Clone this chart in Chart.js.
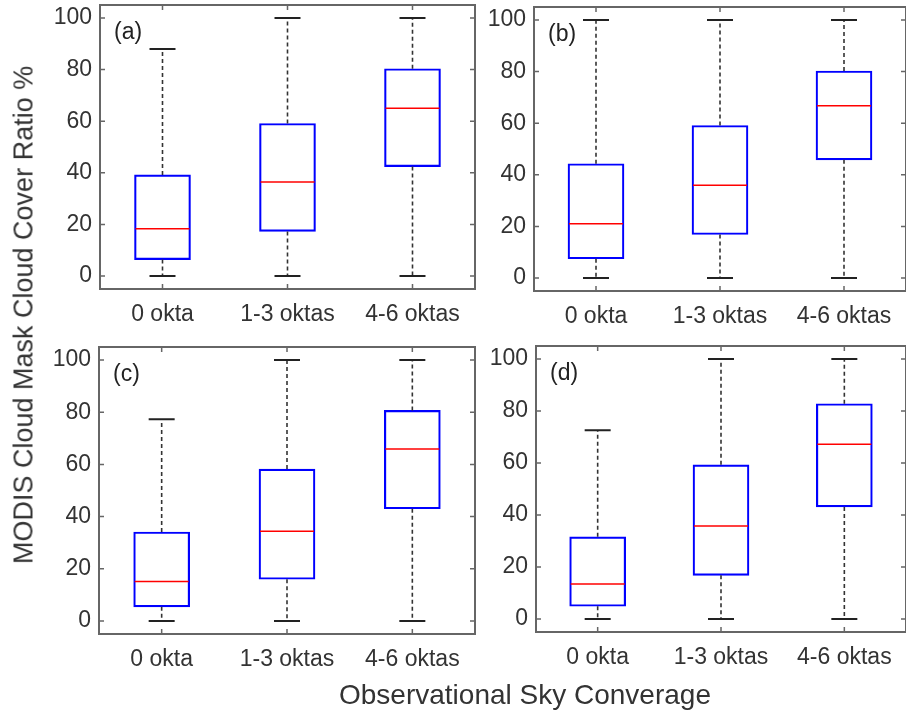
<!DOCTYPE html>
<html>
<head>
<meta charset="utf-8">
<script src="https://cdn.jsdelivr.net/npm/chart.js@4.4.1/dist/chart.umd.min.js"></script>
<style>
  body { margin: 0; background: #fff; }
  #wrap { position: relative; width: 906px; height: 719px; overflow: hidden; background: #fff; font-family: "Liberation Sans", Arial, sans-serif; }
  canvas { position: absolute; }
  .ytitle { position: absolute; left: 24px; top: 315px; transform: translate(-50%, -50%) rotate(-90deg); white-space: nowrap; font-size: 27px; color: #333; }
  .xtitle { position: absolute; left: 525px; top: 695px; transform: translate(-50%, -50%); white-space: nowrap; font-size: 28px; color: #333; }
</style>
</head>
<body>
<div id="wrap">
  <canvas id="pa" width="440" height="335" style="left:40px;top:0px"></canvas>
  <canvas id="pb" width="432" height="335" style="left:474px;top:0px"></canvas>
  <canvas id="pc" width="441" height="340" style="left:39px;top:340px"></canvas>
  <canvas id="pd" width="430" height="340" style="left:476px;top:340px"></canvas>
  <div class="ytitle">MODIS Cloud Mask Cloud Cover Ratio %</div>
  <div class="xtitle">Observational Sky Converage</div>
</div>
<script>
const categories = ['0 okta', '1-3 oktas', '4-6 oktas'];
const yTicks = [0, 20, 40, 60, 80, 100];

// (a)
const lowA = [0, 0, 0];
const q1A = [6.4, 17.3, 42.4];
const medA = [18.3, 36.4, 65];
const q3A = [39.2, 59.1, 80.3];
const highA = [88, 100, 100];

// (b)
const lowB = [0, 0, 0];
const q1B = [7.5, 16.9, 45.8];
const medB = [21, 36, 66.8];
const q3B = [44.3, 59.1, 80.2];
const highB = [100, 100, 100];

// (c)
const lowC = [0, 0, 0];
const q1C = [5.4, 16, 43];
const medC = [15.1, 34.4, 65.9];
const q3C = [34.1, 58.2, 80.7];
const highC = [77.3, 100, 100];

// (d)
const lowD = [0, 0, 0];
const q1D = [4.9, 16.8, 43.1];
const medD = [13.5, 35.8, 67.2];
const q3D = [31.6, 59.3, 82.8];
const highD = [72.6, 100, 100];

const tickFont = { family: '"Liberation Sans", Arial, sans-serif', size: 23 };
const textColor = '#333';
const axisColor = '#666';

// whiskers, caps, medians, frame and inner ticks (MATLAB boxplot look)
const boxPlugin = {
    id: 'boxExtras',
    afterDatasetsDraw(chart, args, opts) {
        const ctx = chart.ctx;
        const xs = chart.scales.x;
        const ys = chart.scales.y;
        const st = opts.stats;
        ctx.save();
        for (let i = 0; i < categories.length; i++) {
            const x = xs.getPixelForValue(i);
            const yLow = ys.getPixelForValue(st.low[i]);
            const yQ1 = ys.getPixelForValue(st.q1[i]);
            const yMed = ys.getPixelForValue(st.med[i]);
            const yQ3 = ys.getPixelForValue(st.q3[i]);
            const yHigh = ys.getPixelForValue(st.high[i]);

            ctx.strokeStyle = '#333';
            ctx.lineWidth = 1.6;
            ctx.setLineDash([4, 3]);
            ctx.beginPath();
            ctx.moveTo(x, yQ3);
            ctx.lineTo(x, yHigh);
            ctx.moveTo(x, yQ1);
            ctx.lineTo(x, yLow);
            ctx.stroke();

            ctx.setLineDash([]);
            ctx.strokeStyle = '#222';
            ctx.lineWidth = 2;
            ctx.beginPath();
            ctx.moveTo(x - 13, yHigh);
            ctx.lineTo(x + 13, yHigh);
            ctx.moveTo(x - 13, yLow);
            ctx.lineTo(x + 13, yLow);
            ctx.stroke();

            ctx.strokeStyle = '#ff0000';
            ctx.lineWidth = 1.5;
            ctx.beginPath();
            ctx.moveTo(x - 27, yMed);
            ctx.lineTo(x + 27, yMed);
            ctx.stroke();
        }
        ctx.restore();
    },
    afterDraw(chart, args, opts) {
        const ctx = chart.ctx;
        const a = chart.chartArea;
        const xs = chart.scales.x;
        const ys = chart.scales.y;
        ctx.save();
        ctx.strokeStyle = axisColor;
        ctx.lineWidth = 1.5;
        ctx.beginPath();
        yTicks.forEach(v => {
            const y = ys.getPixelForValue(v);
            ctx.moveTo(a.left, y); ctx.lineTo(a.left + 5, y);
            ctx.moveTo(a.right, y); ctx.lineTo(a.right - 5, y);
        });
        categories.forEach((c, i) => {
            const x = xs.getPixelForValue(i);
            ctx.moveTo(x, a.bottom); ctx.lineTo(x, a.bottom - 5);
            ctx.moveTo(x, a.top); ctx.lineTo(x, a.top + 5);
        });
        ctx.stroke();
        ctx.lineWidth = 2;
        ctx.strokeRect(a.left, a.top, a.right - a.left, a.bottom - a.top);

        ctx.fillStyle = '#222';
        ctx.font = '23px "Liberation Sans", Arial, sans-serif';
        ctx.textBaseline = 'middle';
        ctx.fillText(opts.label, a.left + 14, a.top + 28);
        ctx.restore();
    }
};

function makePanel(id, label, low, q1, med, q3, high, pad, xh) {
    return new Chart(id, {
        type: 'bar',
        data: {
            labels: categories,
            datasets: [{
                data: q1.map((v, i) => [v, q3[i]]),
                backgroundColor: 'rgba(0,0,0,0)',
                borderColor: '#0000ff',
                borderWidth: 1.5,
                borderSkipped: false,
                barThickness: 56
            }]
        },
        options: {
            responsive: false,
            animation: false,
            layout: { padding: pad },
            plugins: {
                legend: { display: false },
                tooltip: { enabled: false },
                boxExtras: { label: label, stats: { low, q1, med, q3, high } }
            },
            scales: {
                x: {
                    grid: { display: false, drawTicks: false },
                    border: { display: false },
                    ticks: { font: tickFont, color: textColor, padding: 12, maxRotation: 0 },
                    afterFit(s) {
                        s.height = xh;
                        s.paddingLeft = 0;
                        s.paddingRight = 0;
                    }
                },
                y: {
                    min: -5,
                    max: 105,
                    afterBuildTicks(s) { s.ticks = yTicks.map(v => ({ value: v })); },
                    grid: { display: false, drawTicks: false },
                    border: { display: false },
                    ticks: { font: tickFont, color: textColor, padding: 8 },
                    afterFit(s) {
                        s.width = 60;
                        s.paddingTop = 0;
                        s.paddingBottom = 0;
                    }
                }
            }
        },
        plugins: [boxPlugin]
    });
}

makePanel('pa', '(a)', lowA, q1A, medA, q3A, highA, { top: 5, right: 5, left: 0, bottom: 0 }, 46);
makePanel('pb', '(b)', lowB, q1B, medB, q3B, highB, { top: 7, right: 0, left: 0, bottom: 0 }, 44);
makePanel('pc', '(c)', lowC, q1C, medC, q3C, highC, { top: 7, right: 5, left: 0, bottom: 0 }, 46);
makePanel('pd', '(d)', lowD, q1D, medD, q3D, highD, { top: 6, right: 0, left: 0, bottom: 0 }, 48);
</script>
</body>
</html>
